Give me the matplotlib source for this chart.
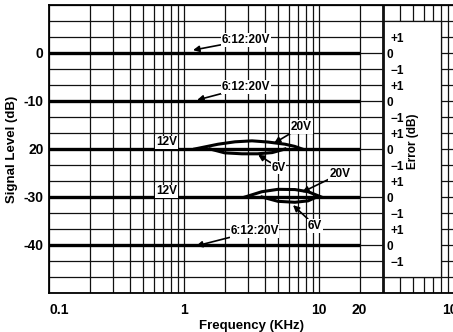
import numpy as np
import matplotlib
matplotlib.use("Agg")
import matplotlib.pyplot as plt
from matplotlib.patches import Rectangle

plt.rcParams['font.family'] = ['Liberation Sans', 'DejaVu Sans']
plt.rcParams['font.weight'] = 'bold'

# signal levels (dB) and their labels as printed
levels = [0, -10, -20, -30, -40]
level_labels = ["0", "-10", "20", "-30", "-40"]
f_start, f_end = 0.1, 20  # flat lines run 0.1 .. 20 kHz

xticks = [0.1, 1, 10, 20, 100]
xtick_labels = ["0.1", "1", "10", "20", "100"]

# deviation curves around -20 dB (20V above, 6V below), dB vs kHz
f20_hi = [1.2, 1.79, 2.39, 3.19, 4.19, 5.6, 6.6, 7.5]
d20_hi = [0.0, 1.0, 1.5, 1.7, 1.45, 1.0, 0.55, 0.0]
f20_lo = [1.56, 2.0, 2.69, 3.5, 4.5, 5.6]
d20_lo = [0.0, -0.8, -1.0, -1.0, -0.75, 0.0]

# deviation curves around -30 dB
f30_hi = [2.83, 3.77, 4.97, 6.64, 8.3, 10.4]
d30_hi = [0.0, 1.1, 1.6, 1.55, 1.1, 0.0]
f30_lo = [3.78, 4.97, 6.64, 8.3, 9.6]
d30_lo = [0.0, -0.9, -1.1, -0.8, 0.0]

err_labels = ["+1", "0", "\u22121"]

fig = plt.figure(figsize=(4.53, 3.32), dpi=100)
ax = fig.add_axes([49 / 453, 39 / 332, 405 / 453, 288 / 332])
ax.set_xscale('log')
ax.set_xlim(0.1, 100)
ax.set_ylim(-50, 10)

minor_x = [m * d for d in [0.1, 1, 10] for m in range(2, 10)]
ax.set_xticks(xticks)
ax.set_xticks(minor_x, minor=True)
ax.set_xticklabels(xtick_labels, fontsize=10, fontweight='bold')
ax.xaxis.set_minor_formatter(plt.NullFormatter())
ax.get_xticklabels()[0].set_horizontalalignment('left')

ax.set_yticks(levels)
ax.set_yticklabels(level_labels, fontsize=10, fontweight='bold')
ax.set_yticks([-50 + k * 10 / 3 for k in range(19)], minor=True)
ax.tick_params(which='both', length=0)
ax.tick_params(axis='x', pad=7)
ax.tick_params(axis='y', pad=4)
ax.grid(True, which='both', color='#111111', lw=0.9)
ax.set_axisbelow(True)
for s in ax.spines.values():
    s.set_linewidth(1.3)

# blank panel for the error scale
ax.add_patch(Rectangle((30, -50 + 10 / 3), 50, 160 / 3, facecolor='white',
                       edgecolor='#111111', lw=0.9, zorder=1))
ax.axvline(30, color='#111111', lw=2, zorder=1.5)

for lv in levels:
    ax.plot([f_start, f_end], [lv, lv], color='k', lw=2.4, solid_capstyle='butt', zorder=3)
    for k, lab in enumerate(err_labels):
        yy = lv + (1 - k) * 10 / 3 - 0.4
        if lab == "0":
            ax.text(31.4, yy, lab, ha='left', va='center', fontsize=8.5, zorder=4)
        else:
            ax.text(42.5, yy, lab, ha='right', va='center', fontsize=8.5, zorder=4)

ax.plot(f20_hi, [-20 + d for d in d20_hi], color='k', lw=2.2, zorder=3)
ax.plot(f20_lo, [-20 + d for d in d20_lo], color='k', lw=2.2, zorder=3)
ax.plot(f30_hi, [-30 + d for d in d30_hi], color='k', lw=2.2, zorder=3)
ax.plot(f30_lo, [-30 + d for d in d30_lo], color='k', lw=2.2, zorder=3)

ax.text(49.7, -18.4, "Error (dB)", rotation=90, ha='center', va='center', fontsize=8.5,
        zorder=4)

arrow = dict(arrowstyle='-|>', color='k', lw=1.2, mutation_scale=9, shrinkA=0, shrinkB=0)
bbox = dict(facecolor='white', edgecolor='none', pad=0.5)
notes = [
    ("6:12:20V", (1.166, 0.6), (1.91, 2.7)),
    ("6:12:20V", (1.25, -9.8), (1.91, -7.1)),
    ("6:12:20V", (1.23, -40.2), (2.2, -37.1)),
    ("20V", (4.64, -18.8), (6.2, -15.4)),
    ("6V", (3.54, -21.2), (4.45, -23.9)),
    ("20V", (7.5, -29.0), (11.9, -25.2)),
    ("6V", (6.42, -31.7), (8.3, -36.0)),
]
for txt, tip, pos in notes:
    ax.annotate(txt, xy=tip, xytext=pos, fontsize=8.5, ha='left', va='center',
                arrowprops=arrow, bbox=bbox, zorder=5)
ax.text(0.62, -18.6, "12V", fontsize=8.5, ha='left', va='center', bbox=bbox, zorder=5)
ax.text(0.62, -28.8, "12V", fontsize=8.5, ha='left', va='center', bbox=bbox, zorder=5)

ax.set_xlabel("Frequency (KHz)", fontsize=9.5, fontweight='bold', labelpad=2)
ax.set_ylabel("Signal Level (dB)", fontsize=9.5, fontweight='bold', labelpad=4)

fig.savefig("out.png", dpi=100)
